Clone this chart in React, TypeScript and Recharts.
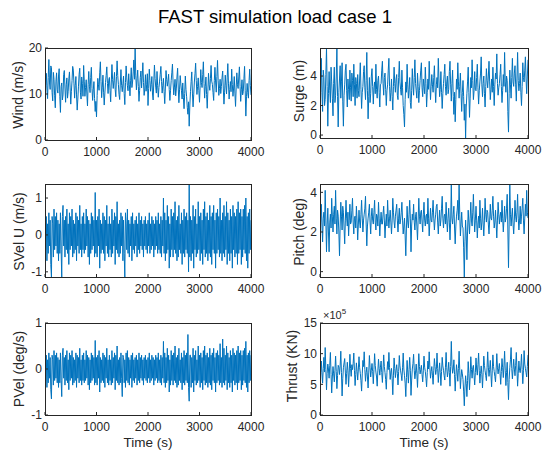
import { LineChart, Line, XAxis, YAxis } from "recharts";

// samples every 12.5 s
const wind = [
  0, 10.2, 14.5, 11.8, 9, 13.6, 17.5, 12.4, 11, 16.1, 15.8, 10.3, 8.5, 14.7, 13.2, 9.6, 7, 12.8, 14.6, 10.9,
  10.2, 13.9, 15.5, 9.4, 6, 11.6, 12.4, 8.7, 9.8, 14.2, 15.1, 11.3, 8.2, 12.0, 13.5, 9.1, 10.6, 13.3, 14.8, 11.5,
  7.8, 10.6, 12.9, 16.0, 15.2, 12.2, 9.1, 11.9, 13.8, 9.8, 6.5, 8.9, 11.7, 14.3, 15.6, 10.4, 8.9, 13.7, 12.3, 9.5,
  16.2, 12.8, 9.5, 11.4, 13.1, 10.0, 7.4, 12.1, 14.9, 11.7, 10.3, 13.6, 15.8, 11.2, 8.6, 10.9, 12.7, 9.0, 6.2, 8.4,
  5, 9.7, 13.4, 12.0, 10.8, 14.6, 17, 12.7, 9.2, 11.5, 14.1, 10.4, 7.6, 10.2, 12.5, 14.0, 15.9, 12.3, 10.1, 13.0,
  13.6, 10.8, 8.3, 12.6, 16.4, 13.1, 11.2, 12.9, 14.7, 11.0, 9.4, 13.8, 17.2, 14.0, 12.1, 9.9, 8.8, 12.4, 15.3, 11.9,
  10.5, 12.2, 13.9, 10.1, 7.7, 12.5, 16.1, 13.5, 11.8, 10.7, 14.4, 12.0, 9.6, 13.0, 15.7, 11.4, 12.6, 14.8, 17.4, 13.2,
  20, 14.1, 10.9, 13.3, 15.2, 11.6, 8.4, 10.8, 13.6, 15.0, 11.3, 13.9, 16.8, 12.5, 9.7, 11.1, 14.2, 10.6, 12.0, 14.4,
  7.5, 11.2, 15.4, 12.9, 10.6, 12.1, 13.8, 10.0, 8.7, 12.6, 16.3, 13.4, 11.5, 10.2, 14.9, 11.8, 9.3, 11.4, 12.8, 14.3,
  16.0, 12.7, 10.2, 11.9, 13.4, 10.5, 7.9, 11.3, 15.1, 13.2, 11.7, 12.8, 14.3, 11.0, 8.6, 10.7, 12.9, 14.6, 16.5, 12.4,
  9.8, 11.5, 13.2, 9.6, 11.1, 13.7, 15.6, 11.3, 8.1, 10.9, 14.0, 12.2, 10.7, 8.9, 12.4, 9.2, 6.8, 10.1, 13.9, 11.0,
  9.4, 7.1, 5.6, 8.3, 3, 7.6, 10.5, 12.7, 14.8, 10.2, 7.2, 9.8, 12.6, 14.4, 16.7, 12.9, 9.9, 11.6, 13.5, 10.7,
  8.2, 11.8, 15.3, 12.5, 11.4, 14.2, 17.0, 12.3, 9.1, 11.7, 13.7, 9.9, 6.9, 10.6, 14.5, 12.0, 10.8, 13.4, 16.2, 12.8,
  12.1, 10.3, 8.6, 12.9, 15.8, 12.6, 10.4, 13.8, 17.3, 13.0, 9.7, 11.2, 13.2, 10.1, 11.6, 13.5, 15.0, 11.1, 7.8, 10.4,
  14.1, 11.9, 10.0, 13.5, 16.6, 12.2, 8.9, 11.0, 12.7, 10.5, 15.4, 12.1, 9.5, 11.3, 13.8, 10.2, 7.3, 11.5, 14.6, 12.0,
  11.2, 13.7, 15.9, 11.6, 8.4, 10.9, 13.1, 9.8, 10.5, 13.3, 16.0, 10.7, 5.2, 9.4, 12.3, 10.3, 9.1, 12.9, 15.4, 11.8,
  9.8,
];

const surge = [
  0, 3.1, 5.2, 2.9, 1.6, 4.4, 3.9, 2.0, 2.4, 4.1, 5.9, 3.3, 0.6, 2.8, 4.3, 3.0, 2.2, 4.6, 3.6, 2.5,
  1.3, 3.5, 4.6, 2.2, 2.7, 4.0, 5.9, 2.6, 0.55, 2.9, 3.8, 4.7, 2.5, 3.6, 4.9, 2.3, 0.6, 2.7, 3.4, 4.4,
  4.8, 3.0, 1.9, 3.8, 3.1, 2.4, 4.4, 3.2, 2.3, 4.2, 3.7, 2.6, 4.8, 3.4, 2.0, 3.9, 3.5, 2.5, 4.1, 3.0,
  2.6, 3.8, 4.9, 3.1, 1.8, 2.9, 3.3, 4.3, 4.7, 3.2, 2.4, 3.7, 5.6, 3.0, 1.1, 2.6, 3.9, 2.2, 2.8, 4.0,
  4.5, 3.3, 2.1, 3.2, 3.6, 2.8, 4.8, 3.1, 2.5, 3.7, 4.0, 2.9, 1.9, 3.4, 3.5, 4.4, 5.0, 3.5, 2.7, 3.9,
  4.2, 3.1, 2.0, 3.0, 3.4, 4.4, 5.2, 3.3, 2.3, 2.9, 3.8, 2.6, 1.7, 3.3, 4.6, 3.5, 2.9, 3.8, 4.1, 2.7,
  2.4, 3.9, 5.0, 3.6, 3.1, 2.7, 4.4, 3.2, 2.0, 1.4, 0.55, 2.4, 3.6, 2.9, 4.8, 3.4, 2.5, 3.1, 3.9, 2.2,
  1.8, 3.0, 4.5, 3.4, 2.7, 3.9, 5.1, 3.5, 3.0, 2.5, 4.2, 3.3, 2.2, 3.0, 3.7, 4.4, 4.9, 3.2, 2.6, 3.8,
  3.3, 2.8, 4.6, 3.5, 1.9, 2.9, 3.8, 3.1, 5.0, 3.6, 2.4, 3.3, 4.1, 3.4, 2.9, 3.9, 4.7, 3.2, 2.2, 3.4,
  3.9, 3.2, 5.2, 3.8, 2.6, 3.1, 4.3, 2.9, 1.8, 2.8, 3.5, 4.1, 4.8, 3.3, 2.7, 3.6, 4.0, 2.8, 3.1, 4.3,
  5.0, 3.4, 2.3, 3.5, 4.4, 2.6, 1.4, 2.9, 0.9, 2.4, 3.8, 3.1, 4.9, 3.6, 2.5, 3.3, 4.2, 2.8, 1.6, 2.9,
  3.7, 2.6, 1.0, 2.1, -0.2, 1.9, 2.8, 3.6, 4.6, 2.9, 1.2, 2.5, 3.9, 3.2, 5.1, 3.7, 2.4, 3.0, 4.3, 3.1,
  3.0, 3.9, 4.8, 3.2, 2.1, 3.0, 3.6, 4.2, 5.3, 3.4, 2.6, 3.5, 4.0, 2.8, 1.9, 3.3, 4.5, 3.7, 3.2, 4.0,
  5.0, 3.6, 2.4, 3.1, 3.8, 2.9, 4.6, 3.3, 2.0, 3.4, 4.2, 3.8, 5.5, 3.5, 2.7, 3.2, 3.5, 4.1, 4.8, 3.3,
  2.2, 3.0, 4.1, 3.3, 5.6, 3.6, 2.9, 4.0, 3.7, 1.6, 0.2, 2.8, 4.4, 3.4, 2.5, 3.9, 5.2, 3.6, 3.3, 4.2,
  4.7, 3.4, 2.3, 3.8, 5.6, 3.7, 3.0, 3.5, 4.2, 2.9, 2.0, 3.3, 4.9, 3.9, 3.6, 4.4, 5.3, 3.8, 2.8, 4.0,
  5.1,
];

const svelU = [
  1.1, -0.4, 0.5, -0.7, 0.3, -0.5, 0.6, -0.3, 0.4, -0.8, -1.14, 0.5, 0.3, -0.6, 0.7, -0.4, 0.5, -0.3, 0.6, -0.5,
  0.4, -0.7, 0.3, -0.5, 0.6, -0.4, -1.14, 0.5, 0.8, -0.3, 0.4, -0.6, 0.5, -0.4, 0.7, -0.5, 0.3, -0.8, 0.6, -0.4,
  0.5, -0.3, 0.7, -0.6, 0.4, -0.5, 0.3, -0.4, 0.6, -0.7, 0.5, -0.3, 0.4, -0.5, 0.8, -0.4, 0.3, -0.6, 0.5, -0.4,
  0.6, -0.5, 0.3, -0.4, 0.7, -0.3, 0.5, -0.6, 0.4, -0.8, 0.3, -0.5, 0.6, -0.4, 0.5, -0.3, 0.4, -0.6, 1.15, -0.5,
  0.4, -0.6, 0.5, -0.3, 0.7, -0.9, 0.4, -0.5, 0.3, -0.4, 0.6, -0.5, 0.5, -0.7, 0.4, -0.3, 0.8, -0.5, 0.3, -0.6,
  0.5, -0.4, 0.3, -0.6, 0.7, -0.5, 0.4, -0.3, 0.6, -0.8, 0.5, -0.4, 0.9, -0.5, 0.3, -0.6, 0.4, -0.5, 0.6, -0.3,
  0.5, -0.7, 0.4, -0.5, -1.14, 0.6, 0.3, -0.4, 0.7, -0.5, 0.4, -0.6, 0.3, -0.3, 0.5, -0.7, 0.6, -0.4, 0.3, -0.5,
  0.4, -0.3, 0.5, -0.6, 0.3, -0.4, 0.6, -0.5, 0.4, -0.3, 0.5, -0.4, 0.3, -0.6, 0.4, -0.3, 0.5, -0.4, 0.3, -0.5,
  0.4, -0.3, 0.6, -0.5, 0.3, -0.4, 0.5, -0.3, 0.4, -0.6, 0.3, -0.4, 0.5, -0.3, 0.4, -0.5, 0.6, -0.4, 0.3, -0.5,
  0.5, -0.6, 0.4, -0.3, 1.0, -0.5, 0.6, -0.7, 0.4, -0.5, 0.8, -0.4, 0.5, -0.9, 0.3, -0.6, 0.7, -0.4, 0.5, -0.6,
  0.6, -0.4, 0.9, -0.5, 0.4, -0.7, 0.5, -0.6, 0.8, -0.4, 0.3, -0.5, 0.6, -0.8, 0.4, -0.5, 0.7, -0.6, 0.5, -0.4,
  0.6, -0.5, 0.4, -1.0, 1.38, -0.6, 0.5, -0.7, 0.4, -0.5, 0.8, -0.9, 0.5, -0.4, 0.7, -0.6, 0.3, -0.5, 0.9, -0.4,
  0.5, -0.7, 0.6, -0.5, 0.4, -0.8, 0.7, -0.4, 0.9, -0.6, 0.5, -0.5, 0.6, -0.7, 0.4, -0.5, 0.8, -0.6, 0.5, -0.8,
  0.6, -0.4, 0.8, -0.5, 0.4, -0.9, 0.6, -0.5, 0.7, -0.4, 0.5, -0.6, 1.0, -0.5, 0.4, -0.7, 0.6, -0.5, 0.8, -0.6,
  0.5, -0.4, 0.9, -0.8, 0.6, -0.5, 0.4, -0.7, 0.7, -0.5, 0.5, -0.9, 0.8, -0.4, 0.6, -0.6, 0.5, -0.5, 0.7, -0.8,
  0.9, -0.5, 0.6, -0.4, 0.7, -0.8, 0.5, -0.6, 0.7, -0.4, 0.8, -0.5, 1.0, -0.7, 0.5, -0.9, 0.6, -0.5, 0.7, -0.4,
  0.4,
];

const pitch = [
  0, 2.2, 3.4, 2.5, 1.5, 2.7, 3.0, 2.3, 4.1, 2.6, 1.0, 2.4, 3.2, 2.0, 1.0, 2.5, 2.9, 2.2, 3.7, 2.8,
  2.0, 2.9, 3.3, 2.4, 4.1, 2.7, 1.9, 3.1, 2.8, 2.0, 0.8, 2.3, 3.5, 2.8, 2.1, 3.3, 3.0, 2.2, 1.4, 2.6,
  3.6, 2.7, 2.3, 3.0, 1.8, 2.6, 3.4, 2.4, 2.5, 3.1, 3.7, 2.5, 1.9, 2.7, 2.8, 2.2, 3.3, 2.6, 1.6, 2.4,
  3.1, 2.5, 2.2, 2.9, 3.6, 2.7, 2.0, 2.6, 2.9, 3.2, 3.8, 2.4, 1.3, 2.3, 2.7, 3.0, 3.4, 2.5, 1.9, 2.8,
  3.2, 2.6, 2.4, 3.0, 3.6, 2.5, 2.1, 2.9, 2.8, 2.3, 3.5, 2.7, 1.8, 2.5, 3.0, 2.4, 2.4, 2.9, 3.3, 2.6,
  1.7, 2.4, 2.9, 2.3, 3.6, 2.8, 2.2, 2.7, 3.1, 2.5, 1.9, 2.6, 3.7, 3.0, 2.5, 2.2, 2.8, 3.1, 3.4, 2.6,
  2.0, 2.7, 3.2, 2.4, 2.6, 3.0, 3.5, 2.6, 1.9, 2.3, 2.7, 1.8, 0.8, 2.2, 3.3, 2.5, 2.2, 2.9, 3.6, 2.7,
  1.0, 2.3, 2.9, 2.6, 3.4, 2.5, 2.1, 2.8, 3.0, 2.3, 1.6, 2.6, 3.7, 2.8, 2.4, 3.0, 3.1, 2.5, 2.0, 2.9,
  3.5, 2.6, 2.3, 2.8, 2.9, 2.4, 3.7, 2.7, 1.8, 2.5, 3.2, 2.6, 2.5, 3.0, 3.6, 2.7, 2.1, 2.6, 2.9, 3.3,
  3.4, 2.5, 1.9, 2.6, 3.1, 2.3, 2.6, 3.2, 3.8, 2.7, 2.2, 2.8, 2.9, 2.4, 3.5, 2.6, 2.0, 2.7, 3.2, 2.5,
  1.6, 2.5, 4.4, 2.7, 2.4, 2.9, 3.3, 2.2, 1.4, 2.3, 2.8, 3.1, 3.6, 2.6, 4.4, 2.9, 1.8, 2.4, 3.0, 2.3,
  2.2, 1.2, -0.27, 1.5, 2.6, 1.8, 0.6, 2.0, 3.1, 2.5, 1.9, 2.7, 3.5, 2.6, 2.3, 3.0, 3.9, 2.8, 2.0, 2.6,
  3.3, 2.6, 1.7, 2.4, 2.8, 2.2, 3.6, 2.7, 2.1, 2.5, 3.2, 2.4, 1.8, 2.6, 3.7, 2.9, 2.5, 3.1, 3.0, 2.4,
  1.9, 2.6, 3.4, 2.7, 2.6, 3.1, 3.8, 2.8, 2.2, 2.5, 3.1, 2.4, 1.7, 2.6, 3.5, 2.9, 2.4, 2.8, 3.0, 2.5,
  3.6, 2.7, 2.0, 2.6, 3.3, 2.5, 2.7, 3.2, 3.9, 2.1, 0.2, 2.4, 4.4, 2.9, 2.3, 2.8, 3.2, 2.4, 1.9, 2.6,
  3.6, 2.8, 2.5, 3.0, 3.9, 2.7, 2.1, 2.6, 3.3, 2.4, 2.8, 3.2, 3.7, 2.6, 1.9, 2.7, 3.4, 2.8, 4.1, 3.0,
  2.7,
];

const pvel = [
  0.7, -0.25, 0.3, -0.4, 0.2, -0.3, 0.35, -0.2, 0.25, -0.45, -0.65, 0.3, 0.2, -0.35, 0.4, -0.25, 0.3, -0.2, 0.35, -0.3,
  0.25, -0.4, 0.2, -0.3, 0.35, -0.25, -0.6, 0.3, 0.45, -0.2, 0.25, -0.35, 0.3, -0.25, 0.4, -0.3, 0.2, -0.45, 0.35, -0.25,
  0.3, -0.2, 0.4, -0.35, 0.25, -0.3, 0.2, -0.25, 0.35, -0.4, 0.3, -0.2, 0.25, -0.3, 0.45, -0.25, 0.2, -0.35, 0.3, -0.25,
  0.35, -0.3, 0.2, -0.25, 0.4, -0.2, 0.3, -0.35, 0.25, -0.45, 0.2, -0.3, 0.35, -0.25, 0.3, -0.2, 0.25, -0.35, 0.62, -0.3,
  0.25, -0.35, 0.3, -0.2, 0.4, -0.5, 0.25, -0.3, 0.2, -0.25, 0.35, -0.3, 0.3, -0.4, 0.25, -0.2, 0.45, -0.3, 0.2, -0.35,
  0.3, -0.25, 0.2, -0.35, 0.4, -0.3, 0.25, -0.2, 0.35, -0.45, 0.3, -0.25, 0.5, -0.3, 0.2, -0.35, 0.25, -0.3, 0.35, -0.2,
  -0.6, 0.3, 0.25, -0.3, 0.2, -0.4, 0.35, -0.25, 0.4, -0.3, 0.25, -0.35, 0.2, -0.2, 0.3, -0.4, 0.35, -0.25, 0.2, -0.3,
  0.25, -0.2, 0.3, -0.35, 0.2, -0.25, 0.35, -0.3, 0.25, -0.2, 0.3, -0.25, 0.2, -0.35, 0.25, -0.2, 0.3, -0.25, 0.2, -0.3,
  0.25, -0.2, 0.35, -0.3, 0.2, -0.25, 0.3, -0.2, 0.25, -0.35, 0.2, -0.25, 0.3, -0.2, 0.25, -0.3, 0.35, -0.25, 0.2, -0.3,
  0.3, -0.35, 0.25, -0.2, 0.6, -0.3, 0.35, -0.4, 0.25, -0.3, 0.45, -0.25, 0.3, -0.5, 0.2, -0.35, 0.4, -0.25, 0.3, -0.35,
  0.35, -0.25, 0.5, -0.3, 0.25, -0.4, 0.3, -0.35, 0.45, -0.25, 0.2, -0.3, 0.35, -0.45, 0.25, -0.3, 0.4, -0.35, 0.3, -0.25,
  0.35, -0.3, 0.75, -0.4, -0.7, 0.3, 0.3, -0.4, 0.25, -0.3, 0.45, -0.5, 0.3, -0.25, 0.4, -0.35, 0.2, -0.3, 0.5, -0.25,
  0.3, -0.4, 0.35, -0.3, 0.25, -0.45, 0.4, -0.25, 0.5, -0.35, 0.3, -0.3, 0.35, -0.4, 0.25, -0.3, 0.45, -0.35, 0.3, -0.45,
  0.35, -0.25, 0.45, -0.3, 0.25, -0.5, 0.35, -0.3, 0.4, -0.25, 0.3, -0.35, 0.55, -0.3, 0.25, -0.4, 0.65, -0.3, 0.45, -0.35,
  0.3, -0.25, 0.5, -0.45, 0.35, -0.3, 0.25, -0.4, 0.4, -0.3, 0.3, -0.5, 0.45, -0.25, 0.35, -0.35, 0.3, -0.3, 0.4, -0.45,
  0.5, -0.3, 0.35, -0.25, 0.4, -0.45, 0.3, -0.35, 0.4, -0.25, 0.45, -0.3, 0.6, -0.4, 0.3, -0.5, 0.35, -0.3, 0.4, -0.25,
  0.3,
];

// thrust in units of 1e5 kN
const thrust = [
  0, 6.5, 8.8, 6.9, 5.2, 7.6, 9.4, 7.0, 11.0, 7.4, 4.1, 6.8, 8.3, 7.5, 6.0, 8.1, 10.2, 6.6, 3.6, 6.2,
  7.9, 6.7, 5.4, 7.3, 9.6, 7.1, 4.3, 6.4, 8.1, 7.8, 6.6, 8.0, 10.4, 6.9, 3.1, 5.9, 7.7, 8.5, 9.2, 7.0,
  5.0, 6.8, 8.6, 7.2, 4.6, 7.0, 9.9, 7.6, 6.3, 8.2, 7.4, 8.4, 10.1, 7.3, 4.8, 6.6, 8.5, 7.1, 5.7, 7.5,
  9.5, 7.7, 6.8, 5.6, 3.9, 6.7, 8.9, 7.9, 10.3, 7.4, 5.5, 6.9, 7.8, 6.2, 4.4, 7.0, 9.7, 7.8, 6.2, 7.3,
  8.4, 7.1, 5.1, 7.4, 10.0, 8.1, 7.0, 6.2, 4.7, 7.2, 9.1, 7.6, 6.5, 7.8, 8.8, 6.9, 5.3, 7.5, 9.8, 7.9,
  6.9, 5.8, 4.2, 6.9, 8.7, 7.4, 10.2, 7.7, 5.8, 7.0, 7.6, 5.9, 3.3, 6.5, 9.3, 7.6, 6.1, 7.3, 8.2, 6.8,
  4.9, 7.1, 9.7, 8.0, 7.2, 6.5, 5.6, 7.7, 10.1, 7.5, 6.4, 5.2, 3.0, 6.1, 8.9, 7.0, 5.2, 7.4, 9.4, 7.3,
  3.2, 5.7, 7.5, 8.4, 9.9, 7.3, 5.9, 7.0, 8.3, 6.8, 4.5, 7.2, 10.0, 7.9, 6.7, 7.4, 8.1, 6.6, 5.4, 7.2,
  9.6, 7.8, 7.1, 6.0, 4.6, 6.9, 8.8, 7.5, 10.3, 7.7, 6.0, 7.1, 7.9, 6.5, 5.0, 7.3, 9.2, 7.9, 6.6, 7.4,
  10.1, 7.6, 5.3, 7.0, 8.5, 6.9, 4.8, 7.1, 9.4, 8.0, 7.3, 6.4, 5.7, 7.8, 10.2, 7.7, 6.2, 7.1, 8.6, 6.9,
  4.7, 7.9, 12.0, 8.3, 6.8, 7.5, 9.0, 6.6, 3.9, 6.3, 8.2, 7.0, 5.5, 7.6, 10.4, 7.2, 4.3, 6.1, 7.4, 6.7,
  5.8, 3.9, 1.5, 4.4, 6.4, 5.1, 3.0, 5.6, 8.7, 6.8, 4.1, 6.2, 9.5, 7.4, 6.0, 7.7, 8.1, 6.5, 4.9, 6.9,
  9.3, 7.5, 6.5, 8.2, 10.1, 7.3, 5.2, 6.8, 8.0, 6.6, 4.4, 6.9, 9.6, 8.1, 7.2, 6.4, 5.6, 7.7, 10.3, 7.8,
  6.3, 7.4, 8.9, 6.7, 4.6, 7.2, 9.8, 7.9, 7.1, 6.3, 5.4, 7.5, 10.0, 7.8, 6.7, 7.6, 8.4, 6.8, 5.0, 7.1,
  9.2, 7.7, 6.1, 8.0, 10.4, 7.3, 4.8, 6.9, 8.6, 5.3, 2.5, 5.8, 7.7, 9.0, 11.0, 7.6, 5.9, 7.4, 9.1, 7.5,
  6.4, 8.1, 10.2, 7.5, 4.7, 6.8, 8.8, 7.3, 6.9, 8.0, 9.9, 7.4, 5.1, 7.2, 10.5, 8.3, 7.6, 6.9, 6.2, 7.9,
  9.8,
];

const time = wind.map((_, i) => i * 12.5);
const xTicks = [0, 1000, 2000, 3000, 4000];

const BLUE = "#0072BD";
const AXIS = "#262626";

interface PanelProps {
  values: number[];
  left: number;
  top: number;
  w: number;
  h: number;
  domain: [number, number];
  ticks: number[];
}

function Panel({ values, left, top, w, h, domain, ticks }: PanelProps) {
  const data = values.map((v, i) => ({ t: time[i], v }));
  return (
    <>
      <div style={{ position: "absolute", left: left - 45, top: top - 10 }}>
        <LineChart
          width={w + 63}
          height={h + 35}
          data={data}
          margin={{ top: 10, right: 18, bottom: 0, left: 0 }}
        >
          <XAxis
            dataKey="t"
            type="number"
            domain={[0, 4000]}
            ticks={xTicks}
            interval={0}
            allowDataOverflow
            stroke={AXIS}
            axisLine={false}
            tickSize={-3}
            tickMargin={10}
            height={25}
            tick={{ fill: AXIS, fontSize: 12 }}
          />
          <YAxis
            type="number"
            domain={domain}
            ticks={ticks}
            interval={0}
            allowDataOverflow
            stroke={AXIS}
            axisLine={false}
            tickSize={-3}
            tickMargin={6}
            width={45}
            tick={{ fill: AXIS, fontSize: 12 }}
          />
          <Line
            dataKey="v"
            type="linear"
            stroke={BLUE}
            strokeWidth={1}
            dot={false}
            isAnimationActive={false}
          />
        </LineChart>
      </div>
      {/* MATLAB-style box around the axes */}
      <div
        style={{
          position: "absolute",
          left,
          top,
          width: w + 1,
          height: h + 1,
          boxSizing: "border-box",
          border: `1px solid ${AXIS}`,
          pointerEvents: "none",
        }}
      />
    </>
  );
}

function YLabel({ x, y, text }: { x: number; y: number; text: string }) {
  return (
    <text x={x} y={y} textAnchor="middle" fontSize={14} fill={AXIS} transform={`rotate(-90 ${x} ${y})`}>
      {text}
    </text>
  );
}

export default function App() {
  return (
    <div
      style={{
        position: "absolute",
        left: 0,
        top: 0,
        width: 542,
        height: 454,
        background: "#fff",
        fontFamily: "'Liberation Sans', Arial, sans-serif",
      }}
    >
      <Panel values={wind} left={45} top={48} w={206} h={92} domain={[0, 20]} ticks={[0, 10, 20]} />
      <Panel values={surge} left={320} top={48} w={208} h={90} domain={[-0.2, 5.9]} ticks={[0, 2, 4]} />
      <Panel values={svelU} left={45} top={184} w={206} h={93} domain={[-1.14, 1.38]} ticks={[-1, 0, 1]} />
      <Panel values={pitch} left={320} top={184} w={208} h={93} domain={[-0.27, 4.42]} ticks={[0, 2, 4]} />
      <Panel values={pvel} left={45} top={323} w={206} h={92} domain={[-1, 1]} ticks={[-1, 0, 1]} />
      <Panel values={thrust} left={320} top={323} w={208} h={92} domain={[0, 15]} ticks={[0, 5, 10, 15]} />
      <svg
        width={542}
        height={454}
        style={{ position: "absolute", left: 0, top: 0, pointerEvents: "none" }}
      >
        <text x={275} y={23} textAnchor="middle" fontSize={18.5} fill="#000">
          FAST simulation load case 1
        </text>
        <YLabel x={23} y={95} text="Wind (m/s)" />
        <YLabel x={303.5} y={91} text="Surge (m)" />
        <YLabel x={24} y={231.5} text="SVel U (m/s)" />
        <YLabel x={303.5} y={232} text="Pitch (deg)" />
        <YLabel x={24} y={369} text="PVel (deg/s)" />
        <YLabel x={297} y={366} text="Thrust (KN)" />
        <text x={148} y={447} textAnchor="middle" fontSize={13.5} fill={AXIS}>
          Time (s)
        </text>
        <text x={424} y={447} textAnchor="middle" fontSize={13.5} fill={AXIS}>
          Time (s)
        </text>
        <text x={323} y={319} fontSize={11} fill={AXIS}>
          ×10
          <tspan dy={-5} fontSize={8}>
            5
          </tspan>
        </text>
      </svg>
    </div>
  );
}
